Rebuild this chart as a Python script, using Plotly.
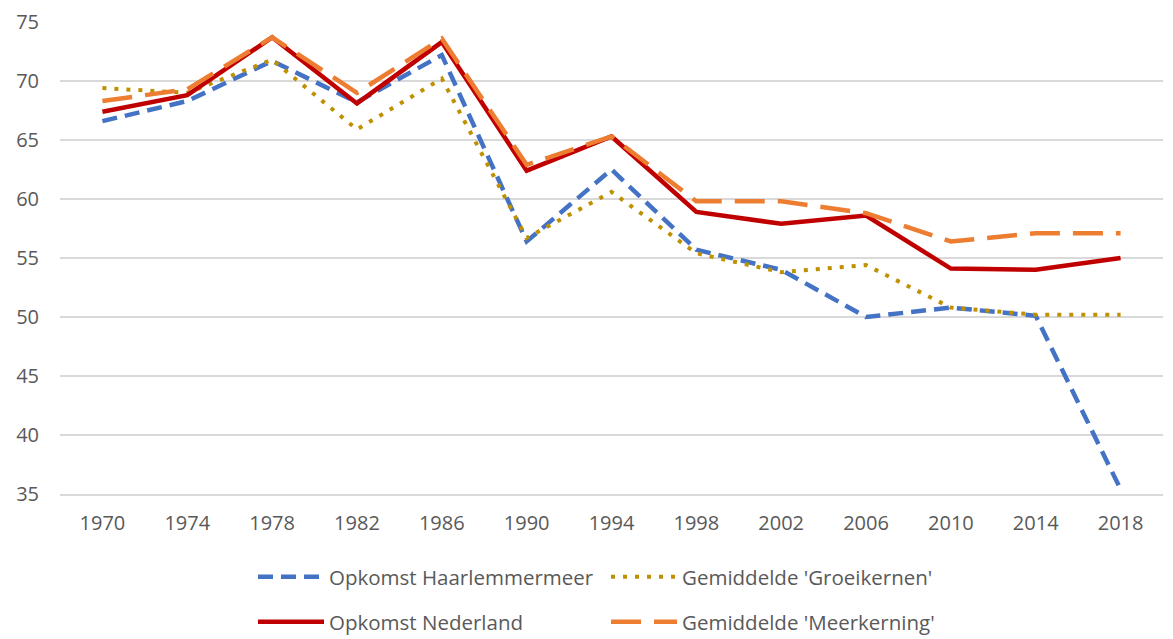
import plotly.graph_objects as go

years = ["1970", "1974", "1978", "1982", "1986", "1990", "1994",
         "1998", "2002", "2006", "2010", "2014", "2018"]
haarlemmermeer = [66.6, 68.3, 71.7, 68.2, 72.2, 56.4, 62.5, 55.7, 54.0, 50.0, 50.8, 50.1, 35.4]
groeikernen = [69.4, 69.0, 71.8, 65.9, 70.2, 56.7, 60.6, 55.4, 53.8, 54.4, 50.8, 50.2, 50.2]
nederland = [67.4, 68.8, 73.7, 68.1, 73.3, 62.4, 65.3, 58.9, 57.9, 58.6, 54.1, 54.0, 55.0]
meerkerning = [68.3, 69.3, 73.7, 69.0, 73.6, 62.9, 65.3, 59.8, 59.8, 58.8, 56.4, 57.1, 57.1]
yticks = [35, 40, 45, 50, 55, 60, 65, 70, 75]

xi = list(range(len(years)))
FONT = "Open Sans"
GREY = "#595959"

fig = go.Figure()
fig.add_trace(go.Scatter(x=xi, y=haarlemmermeer, mode="lines", name="Opkomst Haarlemmermeer",
                         line=dict(color="#4472C4", width=4.5, dash="15px,8px"), legend="legend"))
fig.add_trace(go.Scatter(x=xi, y=groeikernen, mode="lines", name="Gemiddelde 'Groeikernen'",
                         line=dict(color="#BF9000", width=4, dash="4px,8px"), legend="legend2"))
fig.add_trace(go.Scatter(x=xi, y=nederland, mode="lines", name="Opkomst Nederland",
                         line=dict(color="#C00000", width=4.5), legend="legend3"))
fig.add_trace(go.Scatter(x=xi, y=meerkerning, mode="lines", name="Gemiddelde 'Meerkerning'",
                         line=dict(color="#ED7D31", width=4.5, dash="30px,13px"), legend="legend4"))

# the page body adds an 8px offset; size the figure to fit the window
OFF = 8
W, H = 1173 - OFF, 639 - OFF
L, R, T, B = 60 - OFF, 10, 22 - OFF, 145
PW = W - L - R
PH = H - T - B


def px_x(px):
    return (px - OFF - L) / PW


def px_y(py):
    return (H - B - (py - OFF)) / PH


leg_common = dict(orientation="h", xanchor="left", yanchor="middle",
                  font=dict(family=FONT, size=20.5, color=GREY),
                  bgcolor="rgba(0,0,0,0)", itemwidth=66)

fig.update_layout(
    width=W, height=H,
    margin=dict(l=L, r=R, t=T, b=B, autoexpand=False),
    paper_bgcolor="white", plot_bgcolor="white",
    showlegend=True,
    legend=dict(x=px_x(253), y=px_y(577), **leg_common),
    legend2=dict(x=px_x(606), y=px_y(577), **leg_common),
    legend3=dict(x=px_x(253), y=px_y(622), **leg_common),
    legend4=dict(x=px_x(606), y=px_y(622), **leg_common),
    xaxis=dict(
        range=[-0.5, 12.5], tickmode="array", tickvals=xi, ticktext=years,
        showgrid=False, zeroline=False, showline=True, linecolor="#D9D9D9", linewidth=1.5,
        ticks="", tickfont=dict(family=FONT, size=20, color=GREY), ticklabelstandoff=10,
        automargin=False,
    ),
    yaxis=dict(
        range=[35, 75], tickmode="array", tickvals=yticks,
        showgrid=True, gridcolor="#D9D9D9", gridwidth=1.5, zeroline=False, showline=False,
        ticks="", tickfont=dict(family=FONT, size=20, color=GREY), ticklabelstandoff=20,
        automargin=False,
    ),
)

fig.write_html("out.html")
